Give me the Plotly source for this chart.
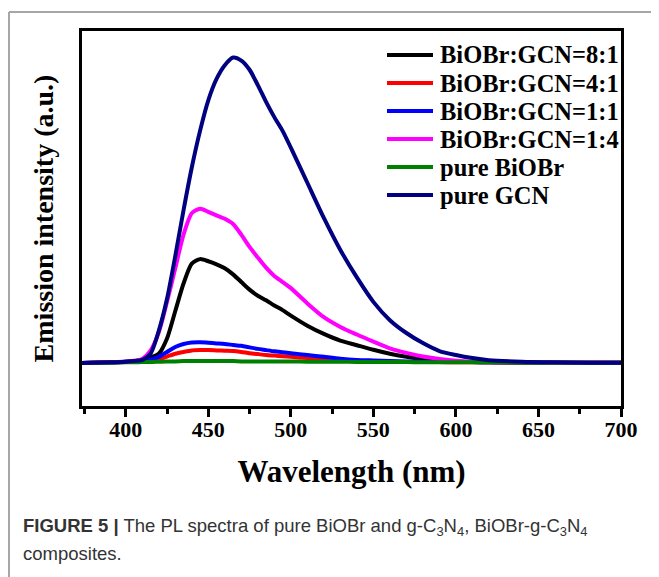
import plotly.graph_objects as go

# ---------------- data ----------------
wavelength = [373, 380, 390, 400, 405, 410, 415, 420, 425, 430, 435, 440, 445, 450,
              455, 460, 465, 470, 475, 480, 485, 490, 495, 500, 510, 520, 530, 540,
              550, 560, 570, 580, 590, 600, 610, 620, 640, 660, 680, 700]

ratio_8_1 = [0, 0.1, 0.2, 0.4, 0.6, 1.0, 1.8, 3.0, 8.0, 17, 26, 32.5, 34, 33.3,
             32.3, 31, 29, 26.5, 24, 22, 20.5, 18.8, 17.3, 15.5, 12.2, 9.5, 7.3, 5.8,
             4.3, 3.0, 2.0, 1.2, 0.7, 0.4, 0.3, 0.2, 0.1, 0.1, 0.1, 0.1]

ratio_4_1 = [0, 0.1, 0.2, 0.3, 0.4, 0.5, 0.7, 1.2, 2.1, 3.0, 3.6, 4.1, 4.2, 4.2,
             4.1, 4.0, 3.9, 3.6, 3.2, 2.9, 2.6, 2.4, 2.2, 2.0, 1.6, 1.2, 0.9, 0.6,
             0.5, 0.4, 0.3, 0.3, 0.3, 0.2, 0.2, 0.2, 0.1, 0.1, 0.1, 0.1]

ratio_1_1 = [0, 0.1, 0.2, 0.4, 0.5, 0.7, 1.1, 2.0, 3.6, 5.2, 6.2, 6.7, 6.8, 6.6,
             6.4, 6.2, 5.9, 5.6, 5.1, 4.6, 4.2, 3.8, 3.5, 3.2, 2.6, 2.0, 1.4, 1.0,
             0.8, 0.6, 0.5, 0.4, 0.3, 0.3, 0.3, 0.2, 0.2, 0.1, 0.1, 0.1]

ratio_1_4 = [0, 0.1, 0.2, 0.4, 0.7, 1.3, 4.0, 10, 20, 31, 42, 49, 50.5, 49.5,
             48.3, 47.2, 45.5, 42, 38, 34.5, 31.2, 28.5, 26.5, 24.5, 19.5, 15, 11.8, 9.3,
             7.0, 4.8, 3.3, 2.1, 1.3, 0.7, 0.4, 0.3, 0.2, 0.1, 0.1, 0.1]

pure_biobr = [0, 0.1, 0.1, 0.2, 0.2, 0.3, 0.3, 0.4, 0.5, 0.5, 0.6, 0.6, 0.6, 0.6,
              0.6, 0.6, 0.6, 0.5, 0.5, 0.5, 0.5, 0.5, 0.5, 0.5, 0.4, 0.4, 0.4, 0.3,
              0.3, 0.3, 0.3, 0.2, 0.2, 0.2, 0.2, 0.2, 0.1, 0.1, 0.1, 0.1]

pure_gcn = [0, 0.1, 0.2, 0.4, 0.6, 1.0, 3.0, 10.5, 21, 35, 50, 64, 76, 86,
            93, 97.5, 100, 99, 96, 91, 85.5, 80.5, 76, 70.5, 59, 47.5, 37, 28,
            20, 14, 9.8, 6.5, 3.9, 2.6, 1.6, 0.9, 0.4, 0.2, 0.1, 0.1]

series_names = ["BiOBr:GCN=8:1", "BiOBr:GCN=4:1", "BiOBr:GCN=1:1",
                "BiOBr:GCN=1:4", "pure BiOBr", "pure GCN"]
series_values = [ratio_8_1, ratio_4_1, ratio_1_1, ratio_1_4, pure_biobr, pure_gcn]
series_colors = ["#000000", "#ff0000", "#0000ff", "#ff00ff", "#008000", "#000080"]

x_ticks = [400, 450, 500, 550, 600, 650, 700]

# ---------------- layout geometry ----------------
# page body has an 8px margin, so the figure is offset by 8px on screen
OFF = 8
W, H = 659 - OFF, 577 - OFF
L, R, T, B = 82 - OFF, 621 - OFF, 31 - OFF, 406 - OFF   # plot area edges (figure px)


def px_x(screen_px):
    return (screen_px - OFF - L) / (R - L)


def px_y(screen_px):
    return (B - (screen_px - OFF)) / (B - T)


serif = "Liberation Serif, Times New Roman, serif"

fig = go.Figure()
for name, vals, color in zip(series_names, series_values, series_colors):
    fig.add_trace(go.Scatter(
        x=wavelength, y=vals, mode="lines", name=name, showlegend=False,
        line=dict(color=color, width=4, shape="spline", smoothing=0.7),
    ))

fig.update_layout(
    width=W, height=H,
    margin=dict(l=L, r=W - R, t=T, b=H - B, pad=0),
    paper_bgcolor="white", plot_bgcolor="white",
    showlegend=False,
)

fig.update_xaxes(
    range=[373.5, 700], tickvals=x_ticks,
    showline=True, linecolor="black", linewidth=3, mirror=True,
    ticks="outside", ticklen=8, tickwidth=3, tickcolor="black",
    ticklabelstandoff=-6,
    minor=dict(dtick=25, tick0=375, ticks="outside", ticklen=5, tickwidth=3, tickcolor="black"),
    showgrid=False, zeroline=False,
    tickfont=dict(family=serif, size=22, color="black", weight="bold"),
    title=dict(text="Wavelength (nm)", standoff=19,
               font=dict(family=serif, size=31, color="black", weight="bold")),
)

fig.update_yaxes(
    range=[-14.1, 108.7],
    showline=True, linecolor="black", linewidth=3, mirror=True,
    ticks="", showticklabels=False, showgrid=False, zeroline=False,
    title=dict(text="Emission intensity (a.u.)", standoff=18,
               font=dict(family=serif, size=28, color="black", weight="bold")),
)

# legend drawn inside the plot (top right), one row per series
leg_font = dict(family=serif, size=24.5, color="black", weight="bold")
for i, (name, color) in enumerate(zip(series_names, series_colors)):
    row_y = px_y(55 + 28 * i)
    fig.add_shape(type="line", xref="paper", yref="paper",
                  x0=px_x(387), x1=px_x(433), y0=row_y, y1=row_y,
                  line=dict(color=color, width=4))
    fig.add_annotation(xref="paper", yref="paper", x=px_x(438), y=row_y,
                       xanchor="left", yanchor="middle", showarrow=False,
                       text=name, font=leg_font)

# outer gray figure frame (top and left edges)
frame_color = "#a6a6a6"
fig.add_shape(type="line", xref="paper", yref="paper",
              x0=px_x(9), x1=px_x(665), y0=px_y(12), y1=px_y(12),
              line=dict(color=frame_color, width=2))
fig.add_shape(type="line", xref="paper", yref="paper",
              x0=px_x(9), x1=px_x(9), y0=px_y(12), y1=px_y(585),
              line=dict(color=frame_color, width=2))

# caption
caption_font = dict(family="Liberation Sans, Arial, sans-serif", size=18.5, color="#333333")
fig.add_annotation(
    xref="paper", yref="paper", x=px_x(21), y=px_y(527),
    xanchor="left", yanchor="middle", showarrow=False, align="left",
    text="<b>FIGURE 5 |</b> The PL spectra of pure BiOBr and g-C<sub>3</sub>N<sub>4</sub>, "
         "BiOBr-g-C<sub>3</sub>N<sub>4</sub>",
    font=caption_font,
)
fig.add_annotation(
    xref="paper", yref="paper", x=px_x(21), y=px_y(553),
    xanchor="left", yanchor="middle", showarrow=False, align="left",
    text="composites.", font=caption_font,
)

fig.write_html("out.html")
